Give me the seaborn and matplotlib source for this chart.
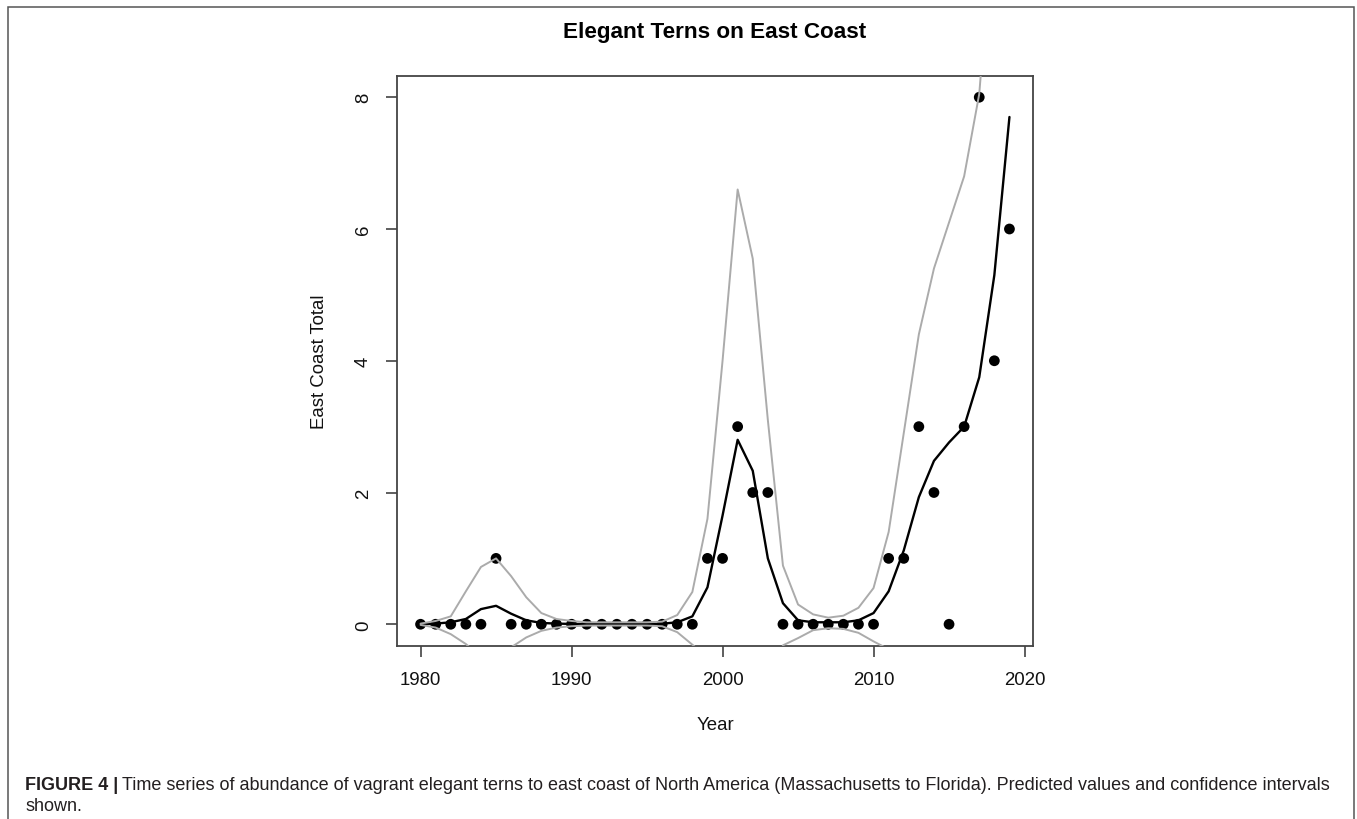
import matplotlib
matplotlib.use("Agg")
import matplotlib.pyplot as plt
from matplotlib import font_manager
from matplotlib.patches import Rectangle
import numpy as np
import pandas as pd
import seaborn as sns

# ---------------- data ----------------
years = list(range(1980, 2020))
observed = [0, 0, 0, 0, 0, 1, 0, 0, 0, 0,
            0, 0, 0, 0, 0, 0, 0, 0, 0, 1,
            1, 3, 2, 2, 0, 0, 0, 0, 0, 0,
            0, 1, 1, 3, 2, 0, 3, 8, 4, 6]
fitted = [0.0, 0.01, 0.03, 0.08, 0.23, 0.28, 0.16, 0.06, 0.02, 0.01,
          0.005, 0.005, 0.005, 0.005, 0.005, 0.005, 0.008, 0.03, 0.12, 0.56,
          1.65, 2.80, 2.33, 1.00, 0.32, 0.06, 0.03, 0.03, 0.03, 0.06,
          0.17, 0.50, 1.12, 1.93, 2.48, 2.76, 3.00, 3.75, 5.30, 7.70]
upper = [0.01, 0.05, 0.12, 0.50, 0.87, 1.00, 0.73, 0.41, 0.17, 0.08,
         0.05, 0.03, 0.03, 0.03, 0.03, 0.03, 0.04, 0.14, 0.49, 1.60,
         4.00, 6.60, 5.55, 3.10, 0.89, 0.30, 0.15, 0.10, 0.13, 0.25,
         0.55, 1.40, 2.90, 4.40, 5.40, 6.10, 6.80, 8.05, 10.9, 16.0]
lower = [-0.01, -0.05, -0.15, -0.30, -0.50, -0.45, -0.35, -0.20, -0.10, -0.05,
         -0.03, -0.02, -0.02, -0.02, -0.02, -0.02, -0.03, -0.12, -0.31, -0.50,
         -0.70, -1.00, -0.90, -1.10, -0.32, -0.21, -0.09, -0.06, -0.07, -0.13,
         -0.26, -0.38, -0.70, -0.50, -0.45, -0.60, -0.80, -0.55, -0.50, -0.60]

title = "Elegant Terns on East Coast"
x_label = "Year"
y_label = "East Coast Total"
x_ticks = [1980, 1990, 2000, 2010, 2020]
y_ticks = [0, 2, 4, 6, 8]
caption_bold = "FIGURE 4 |"
caption_line1 = ("Time series of abundance of vagrant elegant terns to east coast of North America "
                 "(Massachusetts to Florida). Predicted values and confidence intervals")
caption_line2 = "shown."

# ---------------- style ----------------
sns.set_theme(style="ticks")
plt.rcParams["font.family"] = ["Liberation Sans", "DejaVu Sans"]

W, H = 1357, 820
df = pd.DataFrame({"Year": years, "observed": observed, "fitted": fitted,
                   "upper": upper, "lower": lower})

fig = plt.figure(figsize=(W / 100, H / 100), dpi=100)
fig.patch.set_facecolor("white")

ax_left, ax_right, ax_top, ax_bottom = 397, 1033, 76.5, 647
ax = fig.add_axes([ax_left / W, 1 - ax_bottom / H,
                   (ax_right - ax_left) / W, (ax_bottom - ax_top) / H])
ax.set_facecolor("white")

sns.scatterplot(data=df, x="Year", y="observed", color="black", s=60,
                edgecolor="none", linewidth=0, ax=ax, zorder=2)
sns.lineplot(data=df, x="Year", y="fitted", color="black", lw=1.7, ax=ax, zorder=3)
sns.lineplot(data=df, x="Year", y="upper", color="#ababab", lw=1.4, ax=ax, zorder=4)
sns.lineplot(data=df, x="Year", y="lower", color="#ababab", lw=1.4, ax=ax, zorder=4)

ax.set_xlim(1978.44, 2020.56)
ax.set_ylim(-0.33, 8.33)
ax.set_xticks(x_ticks)
ax.set_yticks(y_ticks)
ax.tick_params(axis="both", direction="out", length=8, width=1.1, color="#333333",
               labelsize=13.4, pad=10, labelcolor="#111111")
ax.tick_params(axis="y", labelrotation=90)
for lab in ax.get_yticklabels():
    lab.set_va("center")
for sp in ax.spines.values():
    sp.set_color("#444444")
    sp.set_linewidth(1.3)
ax.grid(False)

ax.set_xlabel(x_label, fontsize=13.4, color="#111111")
ax.set_ylabel(y_label, fontsize=13.4, color="#111111")
ax.xaxis.set_label_coords(0.5, -(717 - ax_bottom) / (ax_bottom - ax_top))
ax.yaxis.set_label_coords(-(ax_left - 328) / (ax_right - ax_left), 0.5)

fig.text(715 / W, 1 - 32.5 / H, title, ha="center", va="center",
         fontsize=16.2, fontweight="bold", color="black")

# outer frame
fig.add_artist(Rectangle((8 / W, -0.05), (1354 - 8) / W, 1.05 - 7.5 / H,
                         transform=fig.transFigure, fill=False,
                         edgecolor="#555555", linewidth=1.1))

# caption
names = {f.name for f in font_manager.fontManager.ttflist}
cap_fam = ["Liberation Sans Narrow", "Liberation Sans"] if "Liberation Sans Narrow" in names \
    else ["Liberation Sans", "DejaVu Sans"]
fs = 11
cap_x = 25
t1 = fig.text(cap_x / W, 1 - 790 / H, caption_bold, fontsize=fs, fontweight="bold",
              family=cap_fam, va="baseline", ha="left", color="#231f20")
t2 = fig.text(0, 1 - 790 / H, caption_line1, fontsize=fs, family=cap_fam,
              va="baseline", ha="left", color="#231f20")
t3 = fig.text(cap_x / W, 1 - 811 / H, caption_line2, fontsize=fs, family=cap_fam,
              va="baseline", ha="left", color="#231f20")


def place(size):
    for t in (t1, t2, t3):
        t.set_fontsize(size)
    r = fig.canvas.get_renderer()
    b1 = t1.get_window_extent(r)
    gap = size * 0.3
    t2.set_x((b1.x1 + gap) / W)
    b2 = t2.get_window_extent(r)
    return b2.x1 - b1.x0


fig.canvas.draw()
width = place(fs)
target = 1335 - cap_x
fs = min(fs * target / width, 13.0)
place(fs)

fig.savefig("out.png", dpi=100, facecolor="white")
